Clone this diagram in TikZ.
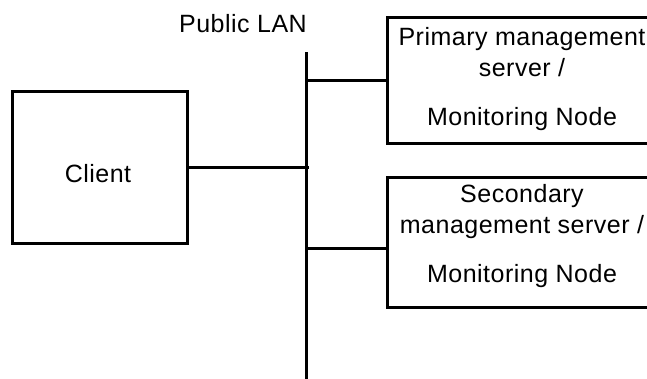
\documentclass[tikz,border=0pt]{standalone}
\usepackage{fontspec}
\setmainfont[LetterSpace=2]{Liberation Sans}
\begin{document}
\begin{tikzpicture}[x=1pt,y=-1pt,
  line width=3pt,
  hostbox/.style={draw,line width=3pt,inner sep=0pt},
  lbl/.style={font=\fontsize{25}{31}\selectfont,inner sep=0pt,anchor=base,align=center}]
  \useasboundingbox (0,0) rectangle (647,378);
  \node[hostbox,minimum width=175pt,minimum height=152pt] (client) at (99.5,167) {};
  \path (98,182) node[lbl] (clientlbl) {Client};
  \node[hostbox,minimum width=270pt,minimum height=126pt] (prim) at (522,80) {};
  \path (522,125) node[lbl] (primlbl) {Primary management\\server /\\[18pt]Monitoring Node};
  \node[hostbox,minimum width=270pt,minimum height=130pt] (sec) at (522,242) {};
  \path (522,282) node[lbl] (seclbl) {Secondary\\management server /\\[18pt]Monitoring Node};
  \path (243,32) node[lbl] (lan) {Public LAN};
  \coordinate (bustop) at (306,52);
  \coordinate (busbot) at (306,380);
  \coordinate (secjoin) at (306,248);
  \draw (bustop)--(busbot);
  \draw (client.east)--(client.east -| 309,0);
  \draw (prim.west)--(prim.west -| bustop);
  \draw (secjoin)--(secjoin -| sec.west);
\end{tikzpicture}
\end{document}
